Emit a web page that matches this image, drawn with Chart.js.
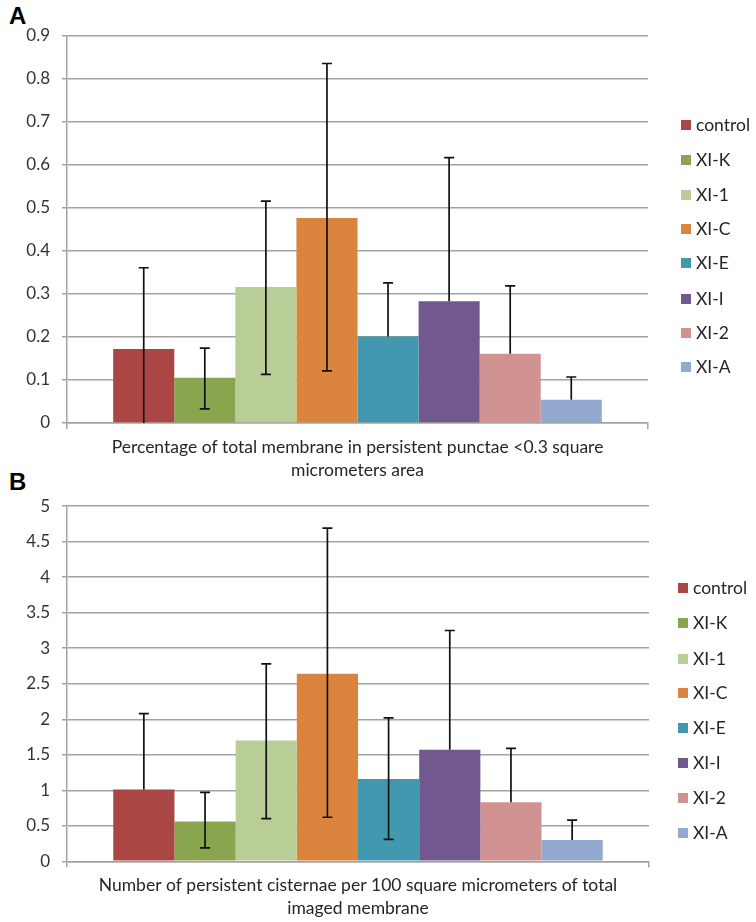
<!DOCTYPE html>
<html><head><meta charset="utf-8">
<script src="https://cdn.jsdelivr.net/npm/chart.js@4"></script>
<style>
html,body{margin:0;padding:0;background:#fff}
body{width:756px;height:922px;position:relative;overflow:hidden;font-family:Lato,sans-serif}
canvas{position:absolute;left:0}
.panel{position:absolute;font:bold 24px "Liberation Sans",Arial,sans-serif;color:#000;line-height:24px}
.leg{position:absolute;font:17.5px Lato,sans-serif;color:#262626;white-space:nowrap;line-height:18px;height:18px}
.leg i{position:absolute;left:0;top:4px;width:10px;height:10px}
.leg b{position:absolute;font-weight:normal;top:0}
</style></head>
<body>
<div class="panel" style="left:9px;top:4px">A</div>
<div class="panel" style="left:9px;top:470px">B</div>
<canvas id="ca" width="756" height="484" style="top:0"></canvas>
<canvas id="cb" width="756" height="438" style="top:484px"></canvas>
<div id="lega"></div><div id="legb"></div>
<script>
const categories = ['control','XI-K','XI-1','XI-C','XI-E','XI-I','XI-2','XI-A'];
const colors = ['#AA4644','#89A54E','#B9CD96','#DB843D','#4198AF','#71588F','#D19392','#93A9D0'];

const valuesA    = [0.172, 0.105, 0.316, 0.477, 0.201, 0.283, 0.161, 0.054];
const errPlusA   = [0.189, 0.069, 0.200, 0.359, 0.125, 0.334, 0.158, 0.053];
const errMinusA  = [0.189, 0.072, 0.203, 0.356, 0, 0, 0, 0];
const ticksA = ['0','0.1','0.2','0.3','0.4','0.5','0.6','0.7','0.8','0.9'];
const titleA = ['Percentage of total membrane in persistent punctae <0.3 square','micrometers area'];

const valuesB    = [1.01, 0.56, 1.70, 2.64, 1.16, 1.57, 0.83, 0.30];
const errPlusB   = [1.07, 0.41, 1.08, 2.05, 0.86, 1.68, 0.76, 0.28];
const errMinusB  = [0, 0.37, 1.10, 2.02, 0.85, 0, 0, 0];
const ticksB = ['0','0.5','1','1.5','2','2.5','3','3.5','4','4.5','5'];
const titleB = ['Number of persistent cisternae per 100 square micrometers of total','imaged membrane'];

const yMaxA = 0.9, yStepA = 0.1;
const yMaxB = 5, yStepB = 0.5;

const gridColor = '#a3a3a3';
const tickColor = '#333333';

const errorBars = {
  id: 'errorBars',
  afterDatasetsDraw(chart) {
    const {ctx, chartArea} = chart;
    const y = chart.scales.y;
    ctx.save();
    ctx.beginPath();
    ctx.rect(chartArea.left, chartArea.top - 2, chartArea.width, chartArea.height + 2);
    ctx.clip();
    ctx.strokeStyle = '#111';
    ctx.lineWidth = 1.7;
    chart.data.datasets.forEach((ds, i) => {
      const bar = chart.getDatasetMeta(i).data[0];
      const v = ds.data[0];
      const yt = y.getPixelForValue(v + ds.errPlus);
      const yb = y.getPixelForValue(v - ds.errMinus);
      ctx.beginPath();
      ctx.moveTo(bar.x, yt); ctx.lineTo(bar.x, yb);
      ctx.moveTo(bar.x - 5, yt); ctx.lineTo(bar.x + 5, yt);
      if (ds.errMinus > 0) { ctx.moveTo(bar.x - 5, yb); ctx.lineTo(bar.x + 5, yb); }
      ctx.stroke();
    });
    ctx.restore();
  }
};

function makeChart(id, values, plus, minus, yMax, yStep, tickLabels, title, H, top, bottom, left, right) {
  const datasets = categories.map((c, i) => ({
    label: c, data: [values[i]], errPlus: plus[i], errMinus: minus[i],
    backgroundColor: colors[i], borderWidth: 0,
    barPercentage: 1, categoryPercentage: 0.841
  }));
  return new Chart(document.getElementById(id), {
    type: 'bar',
    data: { labels: [''], datasets },
    plugins: [errorBars],
    options: {
      responsive: false, animation: false,
      layout: { padding: { top: top, right: 756 - right, left: 0, bottom: 0 } },
      plugins: { legend: { display: false }, tooltip: { enabled: false } },
      scales: {
        x: {
          offset: true,
          grid: { display: true, drawOnChartArea: false, drawTicks: true, tickLength: 6, color: gridColor, lineWidth: 1.5, offset: true },
          border: { display: true, color: gridColor, width: 1.5 },
          ticks: { display: false },
          title: { display: true, text: title, color: '#262626',
                   font: { family: 'Lato', size: 17.5, lineHeight: '23px' }, padding: { top: 6, bottom: 2.5 } },
          afterFit(s) { s.height = H - bottom; }
        },
        y: {
          min: 0, max: yMax,
          grid: { color: gridColor, lineWidth: 1.5, tickLength: 5 },
          border: { display: true, color: gridColor, width: 1.5 },
          ticks: { stepSize: yStep, color: tickColor, padding: 12, font: { family: 'Lato', size: 17 },
                   callback: (v, i) => tickLabels[i] },
          afterFit(s) { s.width = left; }
        }
      }
    }
  });
}

makeChart('ca', valuesA, errPlusA, errMinusA, yMaxA, yStepA, ticksA, titleA, 484, 36, 423, 67, 648);
makeChart('cb', valuesB, errPlusB, errMinusB, yMaxB, yStepB, ticksB, titleB, 438, 22, 377.3, 67, 649);

function legend(elId, x, centers) {
  const el = document.getElementById(elId);
  categories.forEach((c, i) => {
    const d = document.createElement('div');
    d.className = 'leg';
    d.style.left = x + 'px';
    d.style.top = (centers[i] - 9) + 'px';
    d.innerHTML = '<i style="background:' + colors[i] + '"></i><b style="left:15px">' + c + '</b>';
    el.appendChild(d);
  });
}
legend('lega', 681, [125, 160, 194.7, 229, 263.3, 299, 333.3, 367.3]);
legend('legb', 678, [587.7, 623.3, 659, 693.3, 728.3, 762.7, 797.7, 833.3]);
</script>
</body></html>
